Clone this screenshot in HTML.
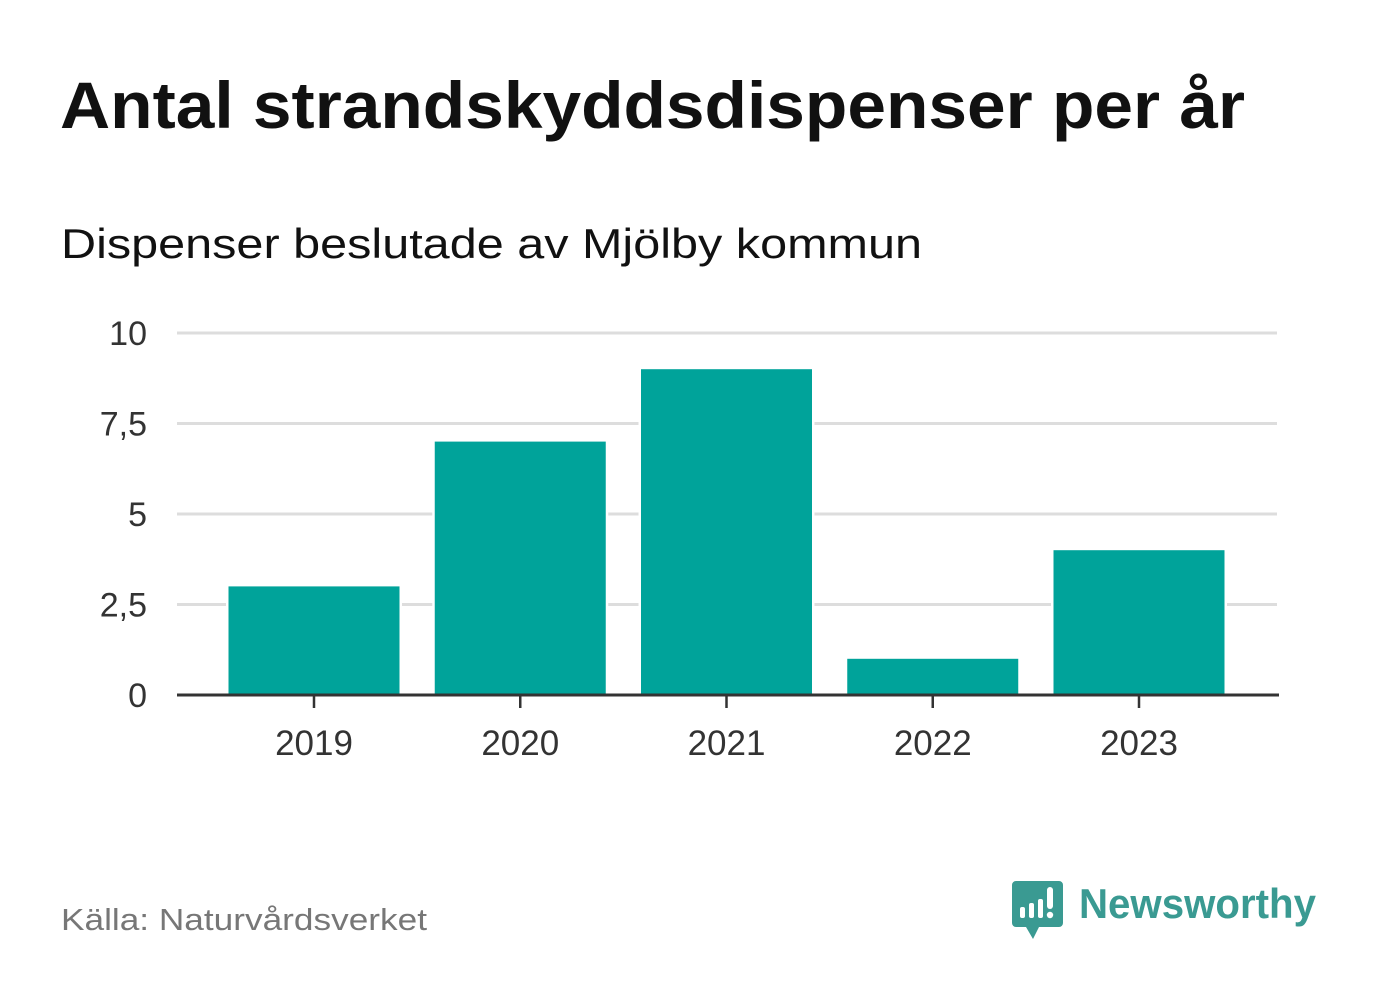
<!DOCTYPE html>
<html><head><meta charset="utf-8"><style>
body{margin:0;background:#fff;width:1382px;height:999px;overflow:hidden;font-family:"Liberation Sans","DejaVu Sans",sans-serif}
</style></head><body>
<svg width="1382" height="999">
<text x="60" y="128" font-size="66" font-weight="bold" fill="#111" textLength="1185" lengthAdjust="spacingAndGlyphs">Antal strandskyddsdispenser per år</text>
<text x="61" y="258" font-size="42" fill="#111" textLength="861" lengthAdjust="spacingAndGlyphs">Dispenser beslutade av Mjölby kommun</text>
<g id="grid"></g><g id="bars"></g><g id="axes"></g>
<text x="61" y="930" font-size="31" fill="#777" textLength="366" lengthAdjust="spacingAndGlyphs">Källa: Naturvårdsverket</text>
<g>
<path d="M1016 881 h43 a4 4 0 0 1 4 4 v38 a4 4 0 0 1 -4 4 h-20 l-6 12 l-7 -12 h-10 a4 4 0 0 1 -4 -4 v-38 a4 4 0 0 1 4 -4z" fill="#3a9a92"/>
<rect x="1020" y="907" width="5" height="11" rx="2" fill="#fff"/>
<rect x="1029" y="903" width="5" height="15" rx="2" fill="#fff"/>
<rect x="1038" y="899" width="5" height="19" rx="2" fill="#fff"/>
<rect x="1047" y="887" width="6" height="22" rx="3" fill="#fff"/>
<circle cx="1050" cy="915" r="3.2" fill="#fff"/>
<text x="1079" y="918" font-size="42" font-weight="bold" fill="#3a9a92" textLength="237" lengthAdjust="spacingAndGlyphs">Newsworthy</text>
</g>
</svg>
<script>
const categories=["2019","2020","2021","2022","2023"];
const values=[3,7,9,1,4];
const yTicks=[0,2.5,5,7.5,10];
const yTickLabels=["0","2,5","5","7,5","10"];
const ns="http://www.w3.org/2000/svg";
const y=v=>695-v*36.2;
const x=i=>314+i*206.25;
function mk(t,a,p){const e=document.createElementNS(ns,t);for(const k in a)e.setAttribute(k,a[k]);p.appendChild(e);return e;}
const G=document.getElementById('grid'),B=document.getElementById('bars'),A=document.getElementById('axes');
yTicks.forEach((t,i)=>{
 if(t>0){const l=mk('line',{x1:177,x2:1277,y1:y(t),y2:y(t),stroke:'#ddd','stroke-width':3},G);
 
 }
 const tx=mk('text',{x:147,y:y(t)+12,'font-size':34,fill:'#333','text-anchor':'end'},A);tx.textContent=yTickLabels[i];
 
 
});
values.forEach((v,i)=>{
 const r=mk('rect',{x:x(i)-85.5,y:y(v),width:171,height:y(0)-y(v),fill:'#00a39a',stroke:'#fff','stroke-width':5,'paint-order':'stroke'},B);
 
 
 const tk=mk('line',{x1:x(i),x2:x(i),y1:695,y2:708,stroke:'#333','stroke-width':2.5},A);
 
 
 const t=mk('text',{x:x(i),y:755,'font-size':35,fill:'#333','text-anchor':'middle'},A);t.textContent=categories[i];
 
 
});
const ax=mk('line',{x1:177,x2:1279,y1:695,y2:695,stroke:'#333','stroke-width':3},A);


</script>
</body></html>
